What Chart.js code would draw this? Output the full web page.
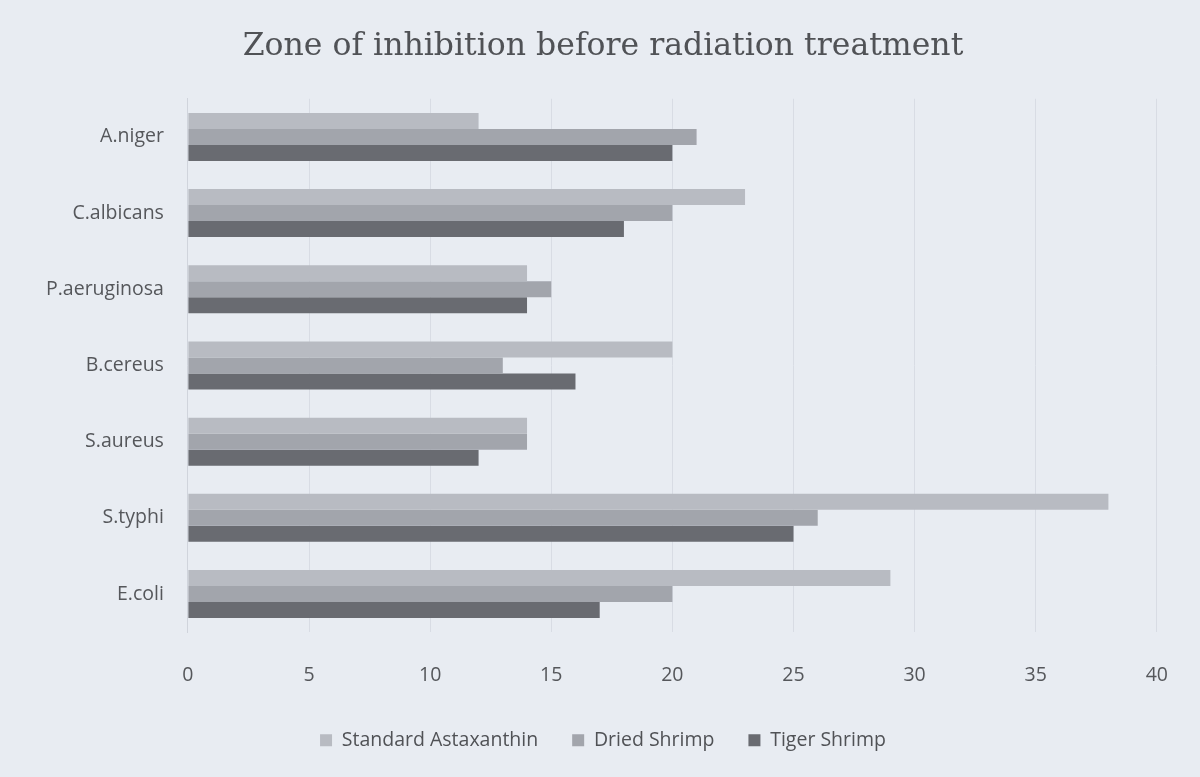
<!DOCTYPE html>
<html>
<head>
<meta charset="utf-8">
<script src="https://cdn.jsdelivr.net/npm/chart.js@4"></script>
<style>
	html, body { margin: 0; padding: 0; background: #e8ecf2; }
	#wrap { width: 1200px; height: 777px; }
</style>
</head>
<body>
<div id="wrap"><canvas id="myChart" width="1200" height="777"></canvas></div>
<script>
var organisms = ['A.niger', 'C.albicans', 'P.aeruginosa', 'B.cereus', 'S.aureus', 'S.typhi', 'E.coli'];
var standardAstaxanthin = [12, 23, 14, 20, 14, 38, 29];
var driedShrimp = [21, 20, 15, 13, 14, 26, 20];
var tigerShrimp = [20, 18, 14, 16, 12, 25, 17];
var xTicks = [0, 5, 10, 15, 20, 25, 30, 35, 40];

var labelFont = { family: '"Open Sans", "Liberation Sans", sans-serif', size: 19.5 };

var ctx = document.getElementById('myChart').getContext('2d');
var myChart = new Chart(ctx, {
	type: 'bar',
	data: {
		labels: organisms,
		datasets: [
		{
			label: 'Standard Astaxanthin',
			backgroundColor: '#b8bbc2',
			data: standardAstaxanthin
		},
		{
			label: 'Dried Shrimp',
			backgroundColor: '#a2a5ac',
			data: driedShrimp
		},
		{
			label: 'Tiger Shrimp',
			backgroundColor: '#696b71',
			data: tigerShrimp
		}]
	},
	options: {
		indexAxis: 'y',
		responsive: false,
		animation: false,
		categoryPercentage: 0.63,
		barPercentage: 1,
		layout: { padding: { left: 30, right: 24, top: 28, bottom: 17 } },
		plugins: {
			title: {
				display: true,
				text: 'Zone of inhibition before radiation treatment',
				color: '#505256',
				font: { family: '"DejaVu Serif", "Liberation Serif", serif', size: 31.5, weight: 'normal' },
				padding: { top: 0, bottom: 33 }
			},
			legend: {
				position: 'bottom',
				labels: {
					color: '#505256',
					font: labelFont,
					boxWidth: 12,
					boxHeight: 12,
					padding: 34
				}
			},
			tooltip: { enabled: false }
		},
		scales: {
			x: {
				min: 0,
				max: 40,
				afterBuildTicks: function(axis){
					axis.ticks = xTicks.map(function(v){ return { value: v }; });
				},
				afterFit: function(axis){
					axis.height -= 23;
				},
				grid: { color: '#d8dce4', drawTicks: false },
				border: { display: false },
				ticks: { color: '#55575b', font: labelFont, padding: 32 }
			},
			y: {
				grid: { display: false },
				border: { color: '#d0d4dc' },
				ticks: { color: '#55575b', font: labelFont, padding: 16 }
			}
		}
	}
});
</script>
</body>
</html>
